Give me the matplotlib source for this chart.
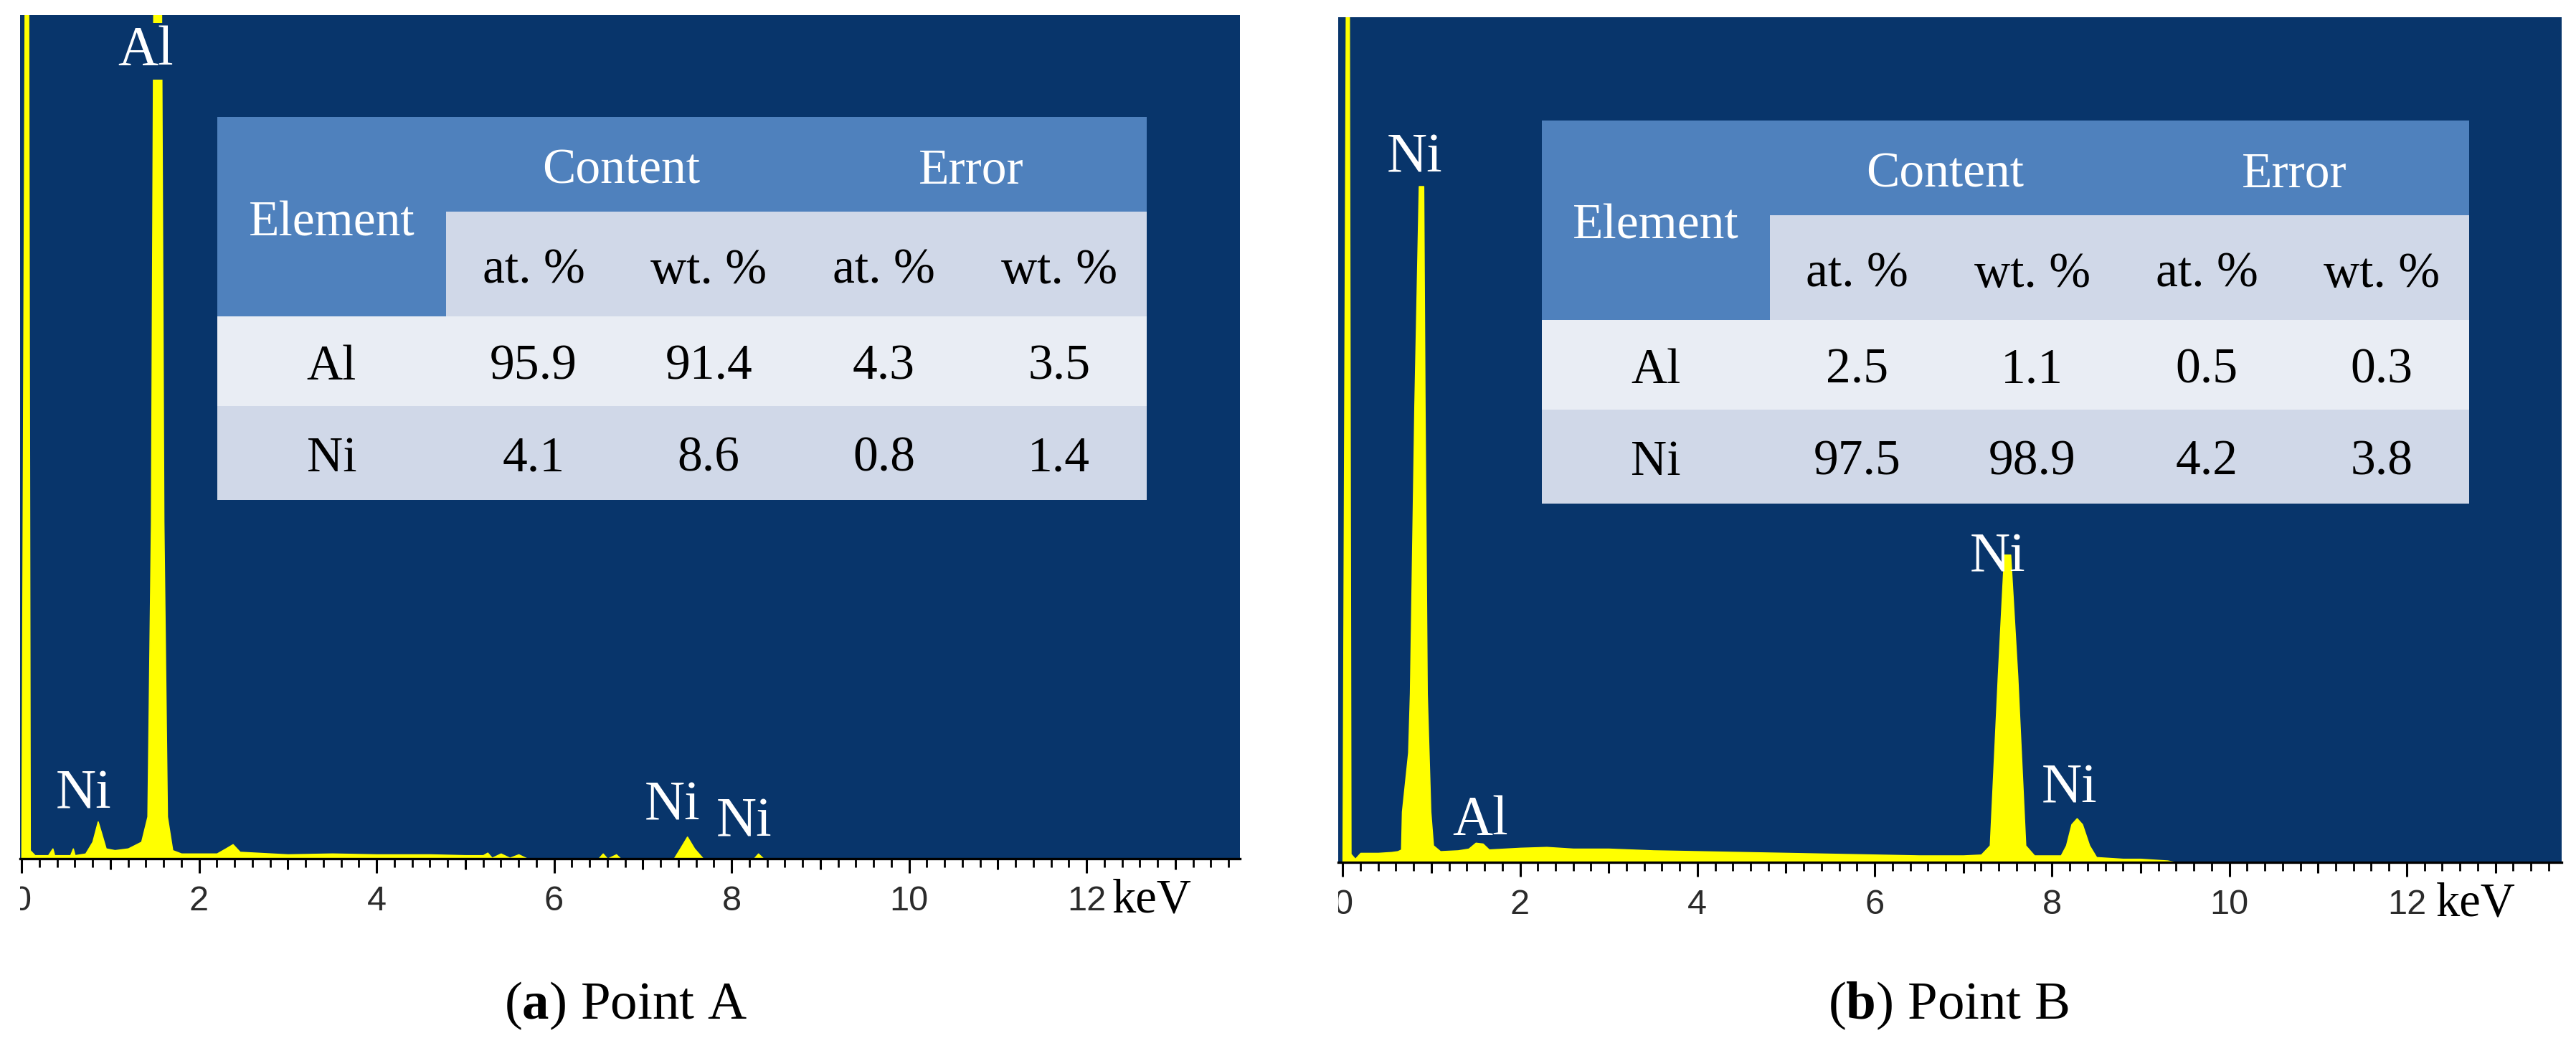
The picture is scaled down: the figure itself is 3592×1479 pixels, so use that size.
import matplotlib.pyplot as plt
from matplotlib.ticker import MultipleLocator
from matplotlib.patches import Rectangle
from matplotlib.transforms import Bbox, TransformedBbox

plt.rcParams["mathtext.fontset"] = "custom"
plt.rcParams["mathtext.rm"] = "Liberation Serif"
plt.rcParams["mathtext.bf"] = "Liberation Serif:bold"

# --- spectrum A (point A), energy in keV, counts relative to panel height
energy_a = [0.00, 0.04, 0.075, 0.095, 0.15, 0.30, 0.35, 0.37, 0.55, 0.58, 0.60, 0.72,
            0.80, 0.86, 0.90, 0.95, 1.05, 1.20, 1.35, 1.42, 1.46, 1.49, 1.57, 1.60,
            1.64, 1.70, 1.80, 2.20, 2.30, 2.38, 2.46, 3.00, 3.50, 4.00, 4.60, 5.00,
            5.20, 5.25, 5.30, 5.40, 5.50, 5.60, 5.70, 6.50, 6.55, 6.60, 6.70, 6.75,
            7.35, 7.42, 7.50, 7.58, 7.68, 8.25, 8.30, 8.36, 13.8]
counts_a = [0.0, 1.1, 1.1, 0.01, 0.004, 0.004, 0.012, 0.004, 0.004, 0.012, 0.004, 0.006,
            0.02, 0.044, 0.03, 0.012, 0.01, 0.012, 0.02, 0.05, 0.4, 1.1, 1.1, 0.4,
            0.05, 0.01, 0.006, 0.006, 0.012, 0.017, 0.008, 0.005, 0.006, 0.005, 0.005, 0.004,
            0.004, 0.007, 0.001, 0.006, 0.001, 0.005, 0.0, 0.0, 0.006, 0.0, 0.005, 0.0,
            0.0, 0.012, 0.026, 0.012, 0.0, 0.0, 0.006, 0.0, 0.0]

# --- spectrum B (point B)
energy_b = [0.00, 0.04, 0.07, 0.09, 0.14, 0.20, 0.40, 0.55, 0.62, 0.66, 0.67, 0.74,
            0.76, 0.81, 0.86, 0.91, 0.925, 0.95, 0.99, 1.02, 1.10, 1.30, 1.42, 1.50,
            1.58, 1.65, 2.00, 2.30, 2.60, 3.00, 3.50, 4.00, 4.50, 5.00, 5.50, 6.00,
            6.50, 7.00, 7.20, 7.30, 7.39, 7.46, 7.53, 7.61, 7.70, 7.80, 8.10, 8.16,
            8.22, 8.28, 8.34, 8.42, 8.50, 8.80, 9.00, 9.30, 9.40, 13.8]
counts_b = [0.0, 1.1, 1.1, 0.01, 0.004, 0.011, 0.011, 0.012, 0.013, 0.015, 0.06, 0.13,
            0.20, 0.54, 0.80, 0.80, 0.54, 0.20, 0.06, 0.02, 0.013, 0.014, 0.016, 0.023,
            0.022, 0.015, 0.017, 0.018, 0.016, 0.016, 0.014, 0.013, 0.012, 0.011, 0.010, 0.009,
            0.008, 0.008, 0.009, 0.02, 0.22, 0.364, 0.364, 0.22, 0.02, 0.008, 0.008, 0.02,
            0.045, 0.052, 0.045, 0.02, 0.006, 0.004, 0.004, 0.002, 0.0, 0.0]

# peak labels: text, energy (label centre), baseline height
labels_a = ["Al", "Ni", "Ni", "Ni"]
label_x_a = [1.40, 0.70, 7.33, 8.14]
label_y_a = [0.941, 0.060, 0.046, 0.027]
labels_b = ["Ni", "Al", "Ni", "Ni"]
label_x_b = [0.81, 1.55, 7.39, 8.20]
label_y_b = [0.817, 0.033, 0.344, 0.071]

major_ticks = [0, 2, 4, 6, 8, 10, 12]
mid_ticks = [1, 3, 5, 7, 9, 11, 13]

# --- composition tables
elements = ["Al", "Ni"]
sub_headers = ["at. %", "wt. %", "at. %", "wt. %"]
table_a = [["95.9", "91.4", "4.3", "3.5"],
           ["4.1", "8.6", "0.8", "1.4"]]
table_b = [["2.5", "1.1", "0.5", "0.3"],
           ["97.5", "98.9", "4.2", "3.8"]]

BG = "#08356b"
YELLOW = "#ffff00"
HEAD = "#4f81bd"
LIGHT = "#d0d8e8"
LIGHTER = "#e9edf4"
SERIF = "Liberation Serif"

fig = plt.figure(figsize=(17.96, 7.395), dpi=200)


def spectrum(rect, energy, counts, labels, lx, ly, xlim, kev_x, boxed):
    ax = fig.add_axes(rect)
    ax.set_facecolor(BG)
    ax.fill_between(energy, counts, 0, color=YELLOW, lw=0.6, zorder=2)
    ax.set_xlim(*xlim)
    ax.set_ylim(0, 1)
    for s in ("top", "left", "right"):
        ax.spines[s].set_visible(False)
    ax.spines["bottom"].set_linewidth(1.2)
    ax.spines["bottom"].set_zorder(5)
    ax.set_yticks([])
    ax.set_xticks(major_ticks)
    ax.xaxis.set_minor_locator(MultipleLocator(0.2))
    ax.tick_params(axis="x", which="major", direction="out", length=7.2, width=1.1,
                   pad=6, labelsize=17.5, labelcolor="#2b2b2b")
    ax.tick_params(axis="x", which="minor", direction="out", length=4.2, width=1.0)
    for lab in ax.get_xticklabels():
        lab.set_fontfamily("Liberation Sans")
    # the "0" label is cut by the panel edge in the original
    zero = ax.get_xticklabels()[0]
    zero.set_clip_box(TransformedBbox(Bbox([[0, -1], [1, 1]]), ax.transAxes))
    zero.set_clip_on(True)

    sec = ax.secondary_xaxis("bottom")
    sec.set_xticks(mid_ticks)
    sec.tick_params(direction="out", length=5.4, width=1.1, labelbottom=False)
    sec.spines["bottom"].set_visible(False)

    for i, t in enumerate(labels):
        kw = {}
        if boxed[i]:
            kw["bbox"] = dict(facecolor=BG, edgecolor="none", pad=1.5)
        ax.text(lx[i], ly[i], t, ha="center", va="baseline", color="white",
                fontsize=28, family=SERIF, zorder=4, **kw)

    ax.text(kev_x, -0.063, "keV", transform=ax.get_xaxis_transform(), ha="center",
            va="baseline", fontsize=24, family=SERIF, clip_on=False)
    return ax


def comp_table(rect, values):
    tax = fig.add_axes(rect)
    tax.set_xlim(0, 1)
    tax.set_ylim(1, 0)
    tax.axis("off")
    cols = [0, 0.246, 0.4346, 0.623, 0.8115, 1.0]
    rows = [0, 0.247, 0.520, 0.755, 1.0]
    tax.add_patch(Rectangle((0, rows[0]), 1, rows[1], color=HEAD, lw=0))
    tax.add_patch(Rectangle((0, rows[1]), cols[1], rows[2] - rows[1], color=HEAD, lw=0))
    tax.add_patch(Rectangle((cols[1], rows[1]), 1 - cols[1], rows[2] - rows[1], color=LIGHT, lw=0))
    tax.add_patch(Rectangle((0, rows[2]), 1, rows[3] - rows[2], color=LIGHTER, lw=0))
    tax.add_patch(Rectangle((0, rows[3]), 1, rows[4] - rows[3], color=LIGHT, lw=0))

    fs = 25
    centers = [(cols[i] + cols[i + 1]) / 2 for i in range(5)]
    tax.text(centers[0], 0.309, "Element", ha="center", va="baseline", color="white",
             fontsize=fs, family=SERIF)
    tax.text(cols[2], 0.174, "Content", ha="center", va="baseline", color="white",
             fontsize=fs, family=SERIF)
    tax.text(cols[4], 0.174, "Error", ha="center", va="baseline", color="white",
             fontsize=fs, family=SERIF)
    for j, h in enumerate(sub_headers):
        tax.text(centers[j + 1], 0.434, h, ha="center", va="baseline", color="black",
                 fontsize=fs, family=SERIF)
    row_base = [0.685, 0.925]
    for r, el in enumerate(elements):
        tax.text(centers[0], row_base[r], el, ha="center", va="baseline", color="black",
                 fontsize=fs, family=SERIF)
        for j, v in enumerate(values[r]):
            tax.text(centers[j + 1], row_base[r], v, ha="center", va="baseline",
                     color="black", fontsize=fs, family=SERIF)


spectrum([0.0078, 0.1907, 0.4736, 0.7951], energy_a, counts_a, labels_a, label_x_a,
         label_y_a, (-0.016, 13.73), 12.74, [True, False, False, False])
spectrum([0.5195, 0.1873, 0.4750, 0.7965], energy_b, counts_b, labels_b, label_x_b,
         label_y_b, (-0.05, 13.75), 12.78, [False, False, False, False])

comp_table([0.08435, 0.5287, 0.3608, 0.3611], table_a)
comp_table([0.5985, 0.5254, 0.3600, 0.3611], table_b)

fig.text(0.243, 0.052, r"($\mathbf{a}$) Point A", ha="center", va="center",
         fontsize=27, family=SERIF)
fig.text(0.7564, 0.052, r"($\mathbf{b}$) Point B", ha="center", va="center",
         fontsize=27, family=SERIF)

fig.savefig("out.png", dpi=200, facecolor="white")
